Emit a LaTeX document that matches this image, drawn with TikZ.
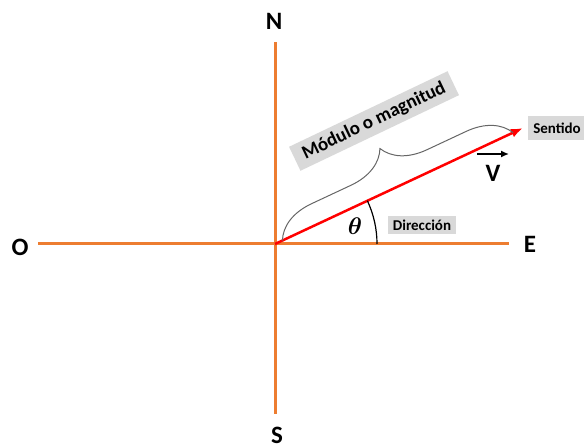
\documentclass[tikz,border=0pt]{standalone}
\usepackage{fontspec}
\setmainfont{Carlito}
\usetikzlibrary{arrows.meta,decorations.pathreplacing,calc}
\definecolor{axisorange}{HTML}{ED7D31}
\definecolor{taggray}{HTML}{D9D9D9}

\begin{document}
\begin{tikzpicture}[x=0.5pt,y=0.5pt,
 axis/.style={draw=axisorange,line width=1.5pt},
 pole/.style={font=\fontsize{12.5}{14}\selectfont\bfseries},
 tag/.style={fill=taggray,inner xsep=2.5pt,inner ysep=2pt,font=\fontsize{7.5}{9}\selectfont\bfseries},
 vec/.style={-{Latex[length=6pt,width=4.5pt]},draw=red,line width=1.25pt}]
\useasboundingbox (0,0) rectangle (584,448);
\coordinate (origin) at (275,204);
\coordinate (west) at (38,204);
\coordinate (east) at (509,204);
\coordinate (north) at (275,406);
\coordinate (south) at (275,34);
\coordinate (tip) at (523,320);
\coordinate (barL) at (477,294);
\coordinate (barR) at (509,294);
\node[pole] (N) at (274,427) {N};
\node[pole] (S) at (277,13) {S};
\node[pole] (O) at (20,201) {O};
\node[pole] (E) at (530,204) {E};
\draw[axis] (west) -- (east);
\draw[axis] (south) -- (north);
\draw[vec] (origin) -- (tip);
\draw[line width=0.6pt] ($(origin)+(102,0)$) arc[start angle=0,end angle=25.1,radius=102];
\draw[decorate,decoration={brace,amplitude=21pt},draw=black!60,line width=0.5pt]
 ($(origin)!0.03!(tip)$) -- ($(origin)!0.96!(tip)$);
\node[tag,rotate=25.5,inner xsep=4.75pt,inner ysep=2.5pt,font=\fontsize{9.5}{11}\selectfont\bfseries] (modulo) at (374,327) {Módulo o magnitud};
\node[tag,inner ysep=3.5pt] (sentido) at (557,320) {Sentido};
\node[tag] (direccion) at (422,223) {Dirección};
\node[font=\fontsize{12}{14}\selectfont\boldmath] (theta) at (355,222) {$\theta$};
\node[pole] (V) at (493,275) {V};
\draw[-{Latex[length=4pt,width=3.5pt]},line width=0.75pt] (barL) -- (barR);
\end{tikzpicture}
\end{document}
